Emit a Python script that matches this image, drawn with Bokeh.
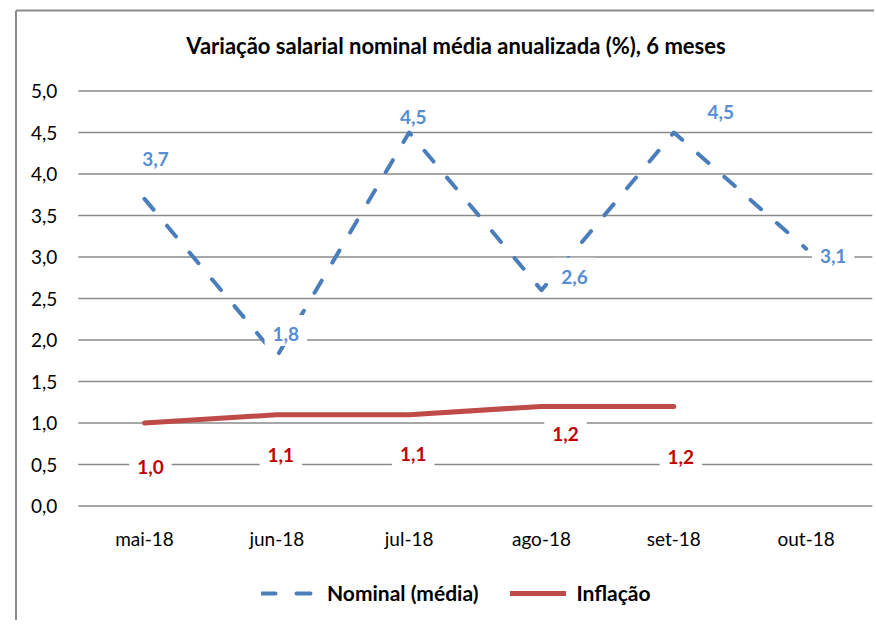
from bokeh.plotting import figure
from bokeh.models import Range1d, FixedTicker, Label, Legend, LegendItem
from bokeh.embed import file_html
from bokeh.resources import INLINE

# ---- data ----
months = ["mai-18", "jun-18", "jul-18", "ago-18", "set-18", "out-18"]
nominal = [3.7, 1.8, 4.5, 2.6, 4.5, 3.1]
inflacao = [1.0, 1.1, 1.1, 1.2, 1.2]
series_names = ["Nominal (média)", "Inflação"]
y_ticks = [0, 0.5, 1.0, 1.5, 2.0, 2.5, 3.0, 3.5, 4.0, 4.5, 5.0]
y_tick_labels = ["0,0", "0,5", "1,0", "1,5", "2,0", "2,5", "3,0", "3,5", "4,0", "4,5", "5,0"]
title_text = "Variação salarial nominal média anualizada (%), 6 meses"

# label offsets in screen pixels (dx right, dy up)
nominal_label_offsets = [(11, 43), (9, 26), (4, 19), (33, 17), (47, 24), (27, -4)]
inflacao_label_offsets = [(6, -40), (4, -37), (4, -36), (24, -24), (7, -47)]

BLUE_LINE = "#4A7EBB"
BLUE_TEXT = "#558ED5"
RED_LINE = "#BE4B48"
RED_TEXT = "#C00000"
GRID = "#8a8a8a"
BORDER = "#8c8c8c"
FONT = "Lato"
LABEL_PAD = dict(left=8, right=8, top=12, bottom=5)

# ---- layout (canvas pixels) ----
W, H = 874, 620
X0_PX, PX_PER_X = 144.0, 132.33      # pixel of first category, pixels per category
Y0_PX, PX_PER_Y = 505.5, 83.0        # pixel of value 0, pixels per unit


def px_x(px):
    return (px - X0_PX) / PX_PER_X


def px_y(py):
    return (Y0_PX - py) / PX_PER_Y


x_idx = list(range(len(months)))
x_lo, x_hi = x_idx[0] - 0.5, x_idx[-1] + 0.5

p = figure(width=W, height=H, output_backend="svg", toolbar_location=None, title=None,
           x_range=Range1d(px_x(0), px_x(W)), y_range=Range1d(px_y(H), px_y(0)),
           min_border=0, min_border_left=0, min_border_right=0,
           min_border_top=0, min_border_bottom=0)
p.outline_line_color = None
p.background_fill_color = "white"
p.border_fill_color = "white"

# chart border (left and top edges)
p.segment(x0=[px_x(15.5), px_x(15.5)], y0=[px_y(10), px_y(10)],
          x1=[px_x(15.5), px_x(W + 10)], y1=[px_y(H + 10), px_y(10)],
          line_color=BORDER, line_width=2)

# horizontal grid lines across the category span
p.segment(x0=[x_lo] * len(y_ticks), x1=[x_hi] * len(y_ticks), y0=y_ticks, y1=y_ticks,
          line_color=GRID, line_width=1.5)
p.xgrid.grid_line_color = None
p.ygrid.grid_line_color = None

# title
p.add_layout(Label(x=px_x(455.5), y=px_y(45), text=title_text,
                   text_align="center", text_baseline="middle",
                   text_font=FONT, text_font_style="bold", text_font_size="22px",
                   text_color="black"))

# axes (fixed inside the frame)
p.xaxis.fixed_location = 0
p.yaxis.fixed_location = x_lo
p.xaxis.ticker = FixedTicker(ticks=x_idx)
p.xaxis.major_label_overrides = {i: m for i, m in zip(x_idx, months)}
p.yaxis.ticker = FixedTicker(ticks=y_ticks)
p.yaxis.major_label_overrides = {t: l for t, l in zip(y_ticks, y_tick_labels)}
for ax in (p.xaxis, p.yaxis):
    ax.axis_line_color = None
    ax.major_tick_line_color = None
    ax.minor_tick_line_color = None
    ax.major_tick_out = 0
    ax.major_tick_in = 0
    ax.major_label_text_font = FONT
    ax.major_label_text_font_size = "19px"
    ax.major_label_text_color = "black"
p.xaxis.major_label_standoff = 21
p.yaxis.major_label_standoff = 21

# lines
r_nom = p.line(x_idx, nominal, line_color=BLUE_LINE, line_width=4,
               line_dash="14 21", line_cap="round", line_join="round")
r_inf = p.line(x_idx[:len(inflacao)], inflacao, line_color=RED_LINE, line_width=5,
               line_cap="round", line_join="round")


def fmt(v):
    return f"{v:.1f}".replace(".", ",")


for i, v in enumerate(nominal):
    dx, dy = nominal_label_offsets[i]
    p.add_layout(Label(x=i, y=v, x_offset=dx, y_offset=dy, text=fmt(v),
                       text_align="center", text_baseline="middle",
                       text_font=FONT, text_font_style="bold", text_font_size="19px",
                       text_color=BLUE_TEXT, background_fill_color="white",
                       padding=LABEL_PAD))

for i, v in enumerate(inflacao):
    dx, dy = inflacao_label_offsets[i]
    p.add_layout(Label(x=i, y=v, x_offset=dx, y_offset=dy, text=fmt(v),
                       text_align="center", text_baseline="middle",
                       text_font=FONT, text_font_style="bold", text_font_size="19px",
                       text_color=RED_TEXT, background_fill_color="white",
                       padding=LABEL_PAD))

legend = Legend(items=[LegendItem(label=series_names[0], renderers=[r_nom]),
                       LegendItem(label=series_names[1], renderers=[r_inf])],
                orientation="horizontal", location=(261, 15),
                border_line_color=None, background_fill_alpha=0,
                glyph_width=56, glyph_height=20, label_standoff=10, spacing=32,
                padding=4, margin=0, label_text_font=FONT,
                label_text_font_style="bold", label_text_font_size="21px",
                label_text_color="black")
p.add_layout(legend, "center")

open("out.html", "w").write(file_html(p, INLINE))
